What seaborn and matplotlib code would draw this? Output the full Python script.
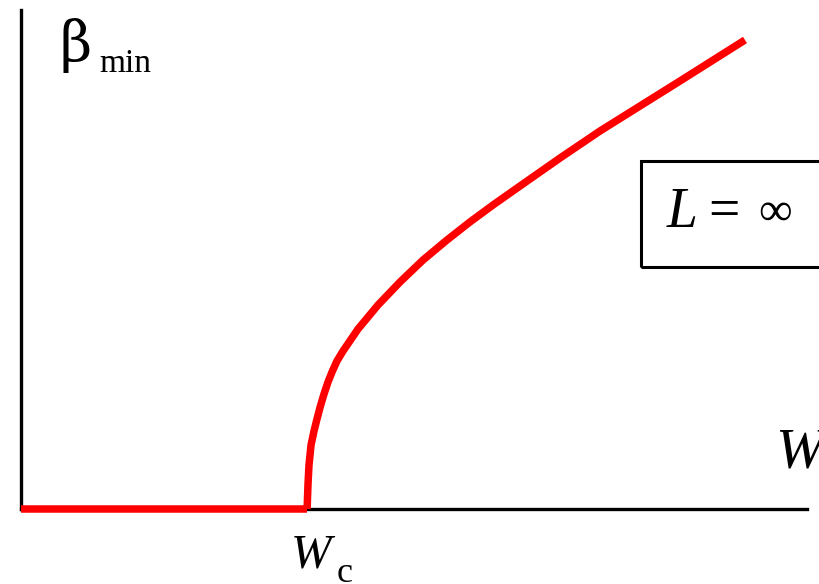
import matplotlib
matplotlib.use("Agg")
import matplotlib.pyplot as plt
import matplotlib.patches as mpatches
import seaborn as sns
import pandas as pd

# Order parameter beta_min versus disorder W (schematic, arbitrary units)
w_flat = [0.0, 3.64]
beta_flat = [0.0, 0.0]
w_rise = [3.64, 3.651, 3.664, 3.690, 3.728, 3.766, 3.804, 3.855, 3.906, 3.957,
          4.020, 4.097, 4.288, 4.542, 4.822, 5.115, 5.420, 5.712, 6.005, 6.349,
          6.858, 7.366, 7.875, 8.384, 9.211]
beta_rise = [0.0, 0.481, 0.882, 1.283, 1.563, 1.804, 2.034, 2.305, 2.545, 2.745,
             2.966, 3.166, 3.607, 4.088, 4.549, 4.990, 5.391, 5.752, 6.092, 6.473,
             7.034, 7.575, 8.076, 8.577, 9.399]

df = pd.DataFrame({"W": w_flat + w_rise, "beta": beta_flat + beta_rise,
                   "seg": ["flat"] * len(w_flat) + ["rise"] * len(w_rise)})

sns.set_theme(style="white")
plt.rcParams["font.family"] = ["Liberation Serif", "DejaVu Serif"]
plt.rcParams["text.color"] = "black"

W, H = 820, 584
fig = plt.figure(figsize=(W / 100, H / 100), dpi=100)
ax = fig.add_axes([21 / W, (H - 509) / H, 786 / W, 499 / H])

sns.lineplot(data=df, x="W", y="beta", units="seg", estimator=None,
             color="#ff0000", linewidth=5.4, ax=ax, clip_on=False,
             solid_capstyle="butt", solid_joinstyle="round", zorder=5, sort=False)

ax.set_xlim(0, 10)
ax.set_ylim(0, 10)
ax.set_xticks([])
ax.set_yticks([])
ax.set_xlabel("")
ax.set_ylabel("")
for side in ("top", "right"):
    ax.spines[side].set_visible(False)
for side in ("left", "bottom"):
    ax.spines[side].set_color("black")
    ax.spines[side].set_linewidth(2.4)


def fx(px):
    return px / W


def fy(py):
    return 1 - py / H


# axis labels
fig.text(fx(60), fy(61), "β", fontsize=40, family="DejaVu Serif",
         va="baseline", ha="left", color="black")
fig.text(fx(99), fy(72), "min", fontsize=24, va="baseline", ha="left", color="black")
fig.text(fx(775), fy(468), "W", fontsize=42, style="italic", va="baseline",
         ha="left", color="black")
fig.text(fx(291), fy(567), "W", fontsize=35, style="italic", va="baseline",
         ha="left", color="black")
fig.text(fx(337), fy(582), "c", fontsize=26, va="baseline", ha="left", color="black")

# legend-like box
rect = mpatches.Rectangle((fx(641), fy(267)), fx(200), (267 - 161) / H,
                          transform=fig.transFigure, fill=False,
                          edgecolor="black", linewidth=2.2, clip_on=False)
fig.patches.append(rect)
fig.text(fx(667), fy(227), "L", fontsize=40, style="italic", va="baseline",
         ha="left", color="black")
fig.text(fx(708), fy(227), "=", fontsize=40, va="baseline", ha="left", color="black")
fig.text(fx(758), fy(225), "∞", fontsize=34, va="baseline", ha="left", color="black")

fig.savefig("out.png", dpi=100, facecolor="white")
